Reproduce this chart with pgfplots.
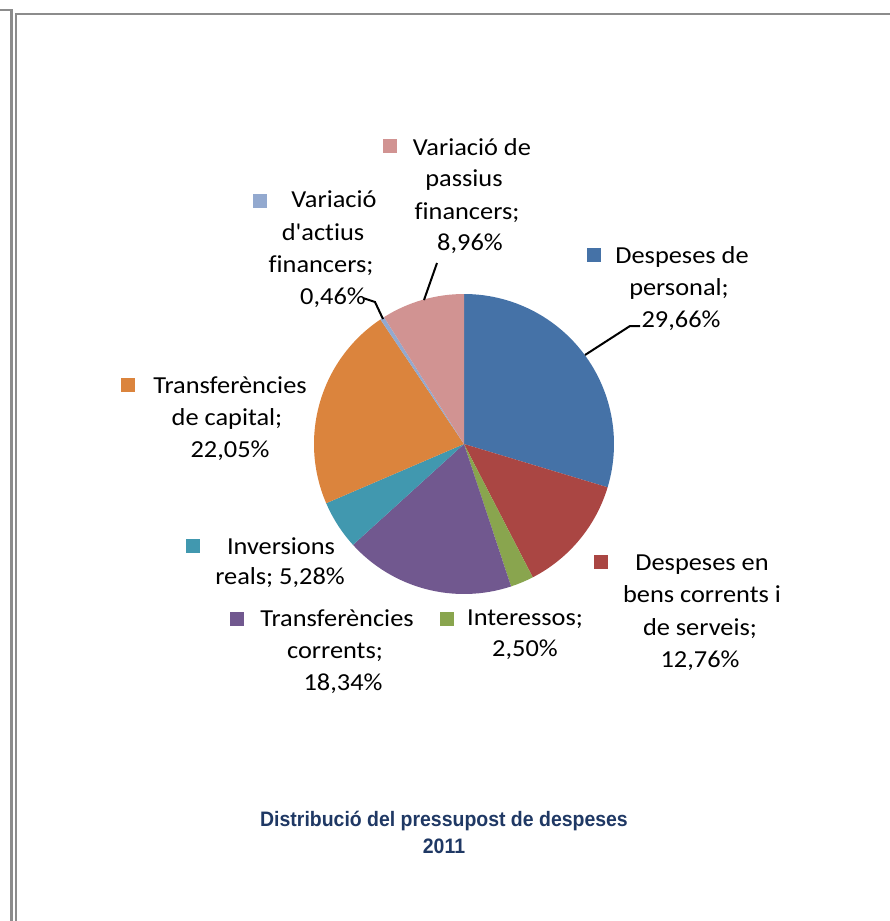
\documentclass[border=0pt]{standalone}
\usepackage{pgfplots}
\pgfplotsset{compat=1.18}
\usepackage{pgfplotstable}
\usepackage{fontspec}
\setmainfont[FakeStretch=1.08, Ligatures={TeXOff,CommonOff}]{Carlito}
\newfontfamily\titlefont[FakeStretch=0.93]{Liberation Sans}

\definecolor{slice0}{HTML}{4572A7}
\definecolor{slice1}{HTML}{AA4643}
\definecolor{slice2}{HTML}{89A54E}
\definecolor{slice3}{HTML}{71588F}
\definecolor{slice4}{HTML}{4198AF}
\definecolor{slice5}{HTML}{DB843D}
\definecolor{slice6}{HTML}{93A9CF}
\definecolor{slice7}{HTML}{D19392}
\definecolor{titleblue}{HTML}{1F3864}
\definecolor{framegray}{HTML}{8C8C8C}

\pgfplotstableread{
value
29.66
12.76
2.50
18.34
5.28
22.05
0.46
8.96
}\piedata

\newcommand\lbl{\fontsize{24.5}{30}\selectfont}

\begin{document}
\begin{tikzpicture}
\begin{axis}[
  at={(0,0)}, anchor=south west,
  scale only axis, width=890bp, height=921bp,
  xmin=0, xmax=890, ymin=0, ymax=921, y dir=reverse,
  hide axis, clip=false,
]
% frame
\draw[framegray, line width=2.2bp] (axis cs:0,10) -- (axis cs:11.5,10) -- (axis cs:11.5,921);
\draw[framegray, line width=2.2bp] (axis cs:16,921) -- (axis cs:16,14) -- (axis cs:890,14);

% pie slices
\def\cum{0}
\pgfplotsforeachungrouped \i in {0,...,7}{%
  \pgfplotstablegetelem{\i}{value}\of\piedata
  \let\val\pgfplotsretval
  \pgfmathsetmacro\a{90-3.6*\cum}
  \pgfmathsetmacro\b{90-3.6*(\cum+\val)}
  \edef\cmd{\noexpand\fill[slice\i] (axis cs:464,444) -- ++(\a:150bp) arc[start angle=\a, end angle=\b, radius=150bp] -- cycle;}
  \cmd
  \pgfmathsetmacro\cum{\cum+\val}
}

% leader lines
\draw[black, line width=2bp] (axis cs:585,355) -- (axis cs:630,326) -- (axis cs:640,326);
\draw[black, line width=2bp] (axis cs:363,298) -- (axis cs:375,302) -- (axis cs:383,319);
\draw[black, line width=2bp] (axis cs:437,263) -- (axis cs:424,300);

% legend keys
\fill[slice0] (axis cs:587,248) rectangle (axis cs:601,262);
\fill[slice1] (axis cs:594,555) rectangle (axis cs:608,569);
\fill[slice2] (axis cs:440,612) rectangle (axis cs:454,626);
\fill[slice3] (axis cs:230,612) rectangle (axis cs:244,626);
\fill[slice4] (axis cs:186,539) rectangle (axis cs:200,553);
\fill[slice5] (axis cs:121,378) rectangle (axis cs:135,392);
\fill[slice6] (axis cs:253,194) rectangle (axis cs:267,208);
\fill[slice7] (axis cs:383,139) rectangle (axis cs:397,153);

% labels
\node[anchor=base, font=\lbl] at (axis cs:682,263) {Despeses de};
\node[anchor=base, font=\lbl] at (axis cs:679,295) {personal;};
\node[anchor=base, font=\lbl] at (axis cs:681,327) {29,66\%};

\node[anchor=base, font=\lbl] at (axis cs:702,570) {Despeses en};
\node[anchor=base, font=\lbl] at (axis cs:702,602) {bens corrents i};
\node[anchor=base, font=\lbl] at (axis cs:700,635) {de serveis;};
\node[anchor=base, font=\lbl] at (axis cs:700,667) {12,76\%};

\node[anchor=base, font=\lbl] at (axis cs:525,625) {Interessos;};
\node[anchor=base, font=\lbl] at (axis cs:525,656) {2,50\%};

\node[anchor=base, font=\lbl] at (axis cs:337,626) {Transferències};
\node[anchor=base, font=\lbl] at (axis cs:335,658) {corrents;};
\node[anchor=base, font=\lbl] at (axis cs:343,690) {18,34\%};

\node[anchor=base, font=\lbl] at (axis cs:281,554) {Inversions};
\node[anchor=base, font=\lbl] at (axis cs:280,584) {reals; 5,28\%};

\node[anchor=base, font=\lbl] at (axis cs:230,393) {Transferències};
\node[anchor=base, font=\lbl] at (axis cs:227,425) {de capital;};
\node[anchor=base, font=\lbl] at (axis cs:230,457) {22,05\%};

\node[anchor=base, font=\lbl] at (axis cs:334,208) {Variació};
\node[anchor=base, font=\lbl] at (axis cs:323,240) {d'actius};
\node[anchor=base, font=\lbl] at (axis cs:321,272) {financers;};
\node[anchor=base, font=\lbl] at (axis cs:333,304) {0,46\%};

\node[anchor=base, font=\lbl] at (axis cs:472,155) {Variació de};
\node[anchor=base, font=\lbl] at (axis cs:464,187) {passius};
\node[anchor=base, font=\lbl] at (axis cs:467,219) {financers;};
\node[anchor=base, font=\lbl] at (axis cs:470,250) {8,96\%};

% title
\node[anchor=base, text=titleblue, font=\titlefont\bfseries\fontsize{21}{25}\selectfont] at (axis cs:444,826) {Distribució del pressupost de despeses};
\node[anchor=base, text=titleblue, font=\titlefont\bfseries\fontsize{21}{25}\selectfont] at (axis cs:444,853) {2011};
\end{axis}
\pgfresetboundingbox
\useasboundingbox (0,0) rectangle (890bp,921bp);
\end{tikzpicture}
\end{document}
